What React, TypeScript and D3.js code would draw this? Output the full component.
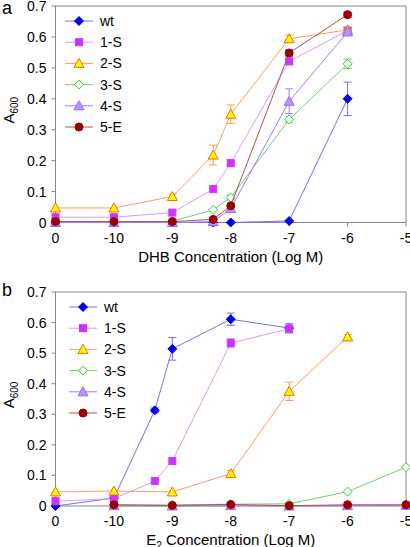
import React from "react";
import * as d3 from "d3";

const seriesNames = ["wt", "1-S", "2-S", "3-S", "4-S", "5-E"];
const xTickPos = [-11, -10, -9, -8, -7, -6, -5];
const xTickLabels = ["0", "-10", "-9", "-8", "-7", "-6", "-5"];
const yTicks = [0, 0.1, 0.2, 0.3, 0.4, 0.5, 0.6, 0.7];
const yTickLabels = ["0", "0.1", "0.2", "0.3", "0.4", "0.5", "0.6", "0.7"];

// Panel a (DHB)
const xA = [-11, -10, -9, -8.3, -8, -7, -6];
const aWt = [0, 0, 0, 0, 0, 0.005, 0.4];
const a1S = [0.017, 0.017, 0.032, 0.108, 0.192, 0.521, 0.62];
const a2S = [0.047, 0.047, 0.084, 0.218, 0.35, 0.594, 0.623];
const a3S = [0.001, 0.001, 0.004, 0.041, 0.081, 0.333, 0.513];
const a4S = [0, 0, 0, 0.003, 0.045, 0.392, 0.616];
const a5E = [0.003, 0.003, 0.003, 0.01, 0.054, 0.548, 0.672];
const aWtErr = [0, 0, 0, 0, 0, 0.003, 0.054];
const a1SErr = [0.003, 0.003, 0.004, 0.005, 0.01, 0.01, 0.01];
const a2SErr = [0.003, 0.003, 0.008, 0.032, 0.03, 0.012, 0.01];
const a3SErr = [0, 0, 0, 0.004, 0.008, 0.01, 0.015];
const a4SErr = [0, 0, 0, 0, 0.01, 0.04, 0.01];
const a5EErr = [0, 0, 0, 0, 0.005, 0.01, 0.008];

// Panel b (E2)
const xBWt = [-11, -10, -9.3, -9, -8, -7];
const bWt = [0, 0.026, 0.313, 0.514, 0.611, 0.582];
const bWtErr = [0, 0.003, 0.008, 0.037, 0.02, 0.015];
const xB1S = [-11, -10, -9.3, -9, -8, -7];
const b1S = [0.016, 0.024, 0.082, 0.147, 0.533, 0.58];
const b1SErr = [0.003, 0.003, 0.005, 0.005, 0.015, 0.015];
const xB2S = [-11, -10, -9, -8, -7, -6];
const b2S = [0.046, 0.049, 0.046, 0.106, 0.375, 0.553];
const b2SErr = [0.003, 0.003, 0.004, 0.01, 0.03, 0.008];
const xBRest = [-10, -9, -8, -7, -6, -5];
const b3S = [0.003, 0.003, 0.006, 0.007, 0.047, 0.127];
const b3SErr = [0, 0, 0, 0, 0.004, 0.006];
const b4S = [0.001, 0, 0.001, 0, 0.001, 0.002];
const b4SErr = [0, 0, 0, 0, 0, 0];
const b5E = [0.004, 0.002, 0.005, 0.001, 0.004, 0.004];
const b5EErr = [0, 0, 0, 0, 0, 0];

type Style = { shape: string; fill: string; stroke: string; line: string };
const styles: Style[] = [
  { shape: "diamond", fill: "#0000ee", stroke: "#0000ee", line: "#7070ff" },
  { shape: "square", fill: "#cc33ff", stroke: "#cc33ff", line: "#dd99f5" },
  { shape: "triangle", fill: "#ffff00", stroke: "#ff6600", line: "#ff9a5c" },
  { shape: "diamond", fill: "#ffffff", stroke: "#33cc33", line: "#70d070" },
  { shape: "triangle", fill: "#b894ff", stroke: "#9966ff", line: "#a07aff" },
  { shape: "circle", fill: "#990000", stroke: "#990000", line: "#b35050" },
];

const FONT = "Arial, 'Liberation Sans', sans-serif";

function Marker({ s, x, y }: { s: Style; x: number; y: number }) {
  if (s.shape === "diamond") {
    const r = 4.5;
    return (
      <path
        d={`M${x},${y - r}L${x + r},${y}L${x},${y + r}L${x - r},${y}Z`}
        fill={s.fill}
        stroke={s.stroke}
        strokeWidth={1}
      />
    );
  }
  if (s.shape === "square") {
    return <rect x={x - 3.5} y={y - 3.5} width={7} height={7} fill={s.fill} stroke={s.stroke} />;
  }
  if (s.shape === "triangle") {
    const r = 5;
    return (
      <path
        d={`M${x},${y - r}L${x + r},${y + r * 0.8}L${x - r},${y + r * 0.8}Z`}
        fill={s.fill}
        stroke={s.stroke}
        strokeWidth={1}
      />
    );
  }
  return <circle cx={x} cy={y} r={4} fill={s.fill} stroke={s.stroke} />;
}

type Series = { xs: number[]; ys: number[]; err: number[] };

function Panel({
  letter,
  letterY,
  top,
  bottom,
  series,
  title,
  legendX,
}: {
  letter: string;
  letterY: number;
  top: number;
  bottom: number;
  series: Series[];
  title: React.ReactNode;
  legendX: number;
}) {
  const left = 55.5;
  const right = 406;
  const x = d3.scaleLinear().domain([-11, -5]).range([left, right]);
  const y = d3.scaleLinear().domain([0, 0.7]).range([bottom, top]);
  const line = d3
    .line<[number, number]>()
    .x((d) => x(d[0]))
    .y((d) => y(d[1]));
  const midY = (top + bottom) / 2 - 4;
  return (
    <g fontFamily={FONT}>
      <text x={2} y={letterY} fontSize={18}>
        {letter}
      </text>
      <rect x={left} y={top} width={right - left} height={bottom - top} fill="none" stroke="#888" strokeWidth={1} />
      {yTicks.map((t, i) => (
        <g key={i}>
          <line x1={left - 4} x2={left} y1={y(t)} y2={y(t)} stroke="#888" />
          <text x={left - 9} y={y(t) + 5} fontSize={14} textAnchor="end">
            {yTickLabels[i]}
          </text>
        </g>
      ))}
      {xTickPos.map((t, i) => (
        <g key={i}>
          <line x1={x(t)} x2={x(t)} y1={bottom} y2={bottom + 4} stroke="#888" />
          <text x={x(t)} y={bottom + 20} fontSize={14} textAnchor="middle">
            {xTickLabels[i]}
          </text>
        </g>
      ))}
      <text transform={`translate(14,${midY}) rotate(-90)`} fontSize={15} textAnchor="middle">
        A<tspan fontSize={10} dy={4}>600</tspan>
      </text>
      <text x={(left + right) / 2} y={bottom + 39} fontSize={15} textAnchor="middle">
        {title}
      </text>
      {series.map((se, si) => {
        const s = styles[si];
        const pts: [number, number][] = se.xs.map((xv, i) => [xv, se.ys[i]]);
        return (
          <g key={si}>
            <path d={line(pts) || ""} fill="none" stroke={s.line} strokeWidth={1} />
            {pts.map((p, i) =>
              se.err[i] > 0.006 ? (
                <g key={"e" + i} stroke={s.line} strokeWidth={1}>
                  <line x1={x(p[0])} x2={x(p[0])} y1={y(p[1] - se.err[i])} y2={y(p[1] + se.err[i])} />
                  <line x1={x(p[0]) - 4} x2={x(p[0]) + 4} y1={y(p[1] - se.err[i])} y2={y(p[1] - se.err[i])} />
                  <line x1={x(p[0]) - 4} x2={x(p[0]) + 4} y1={y(p[1] + se.err[i])} y2={y(p[1] + se.err[i])} />
                </g>
              ) : null
            )}
            {pts.map((p, i) => (
              <Marker key={i} s={s} x={x(p[0])} y={y(p[1])} />
            ))}
          </g>
        );
      })}
      {seriesNames.map((n, i) => {
        const s = styles[i];
        const ly = top + 15 + i * 21.2;
        return (
          <g key={n}>
            <line x1={legendX} x2={legendX + 28} y1={ly} y2={ly} stroke={s.line} />
            <Marker s={s} x={legendX + 14} y={ly} />
            <text x={legendX + 35} y={ly + 5} fontSize={14}>
              {n}
            </text>
          </g>
        );
      })}
    </g>
  );
}

export default function App() {
  const seriesA: Series[] = [
    { xs: xA, ys: aWt, err: aWtErr },
    { xs: xA, ys: a1S, err: a1SErr },
    { xs: xA, ys: a2S, err: a2SErr },
    { xs: xA, ys: a3S, err: a3SErr },
    { xs: xA, ys: a4S, err: a4SErr },
    { xs: xA, ys: a5E, err: a5EErr },
  ];
  const seriesB: Series[] = [
    { xs: xBWt, ys: bWt, err: bWtErr },
    { xs: xB1S, ys: b1S, err: b1SErr },
    { xs: xB2S, ys: b2S, err: b2SErr },
    { xs: xBRest, ys: b3S, err: b3SErr },
    { xs: xBRest, ys: b4S, err: b4SErr },
    { xs: xBRest, ys: b5E, err: b5EErr },
  ];
  return (
    <svg
      width={410}
      height={547}
      style={{ position: "absolute", left: 0, top: 0, background: "#fff" }}
    >
      <Panel letter="a" letterY={14} top={6} bottom={222.5} series={seriesA} title="DHB Concentration (Log M)" legendX={65} />
      <Panel
        letter="b"
        letterY={296}
        top={292}
        bottom={506}
        series={seriesB}
        title={
          <>
            E<tspan fontSize={10} dy={4}>2</tspan>
            <tspan dy={-4}> Concentration (Log M)</tspan>
          </>
        }
        legendX={69}
      />
    </svg>
  );
}
